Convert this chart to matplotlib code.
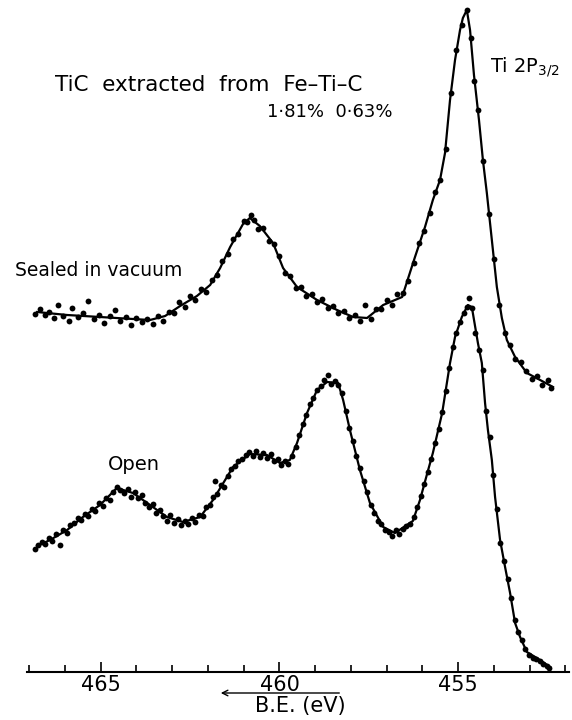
import matplotlib
matplotlib.use("Agg")
import matplotlib.pyplot as plt

plt.rcParams['font.family'] = ['DejaVu Sans']
plt.rcParams['mathtext.default'] = 'regular'

# Smoothed Ti 2p envelopes (binding energy in eV, intensity in arb. units)
sealed_be = [466.78, 465.94, 465.02, 464.10, 463.62, 463.20, 462.78, 462.31, 461.94,
             461.66, 461.38, 461.02, 460.83, 460.55, 460.18, 459.90, 459.51, 458.95,
             458.39, 457.94, 457.55, 457.10, 456.57, 456.21, 455.93, 455.71, 455.51,
             455.37, 455.23, 455.09, 454.95, 454.87, 454.76, 454.67, 454.56, 454.42,
             454.31, 454.20, 454.06, 453.92, 453.78, 453.64, 453.41, 453.08, 452.71,
             452.35]
sealed_fit = [361, 358, 356, 354, 353, 357, 367, 377, 388,
              405, 426, 449, 455, 447, 430, 405, 386, 373,
              363, 356, 355, 368, 376, 416, 446, 473, 493,
              520, 573, 613, 643, 655, 663, 643, 598, 553,
              513, 480, 433, 386, 355, 333, 316, 300, 293,
              286]

open_be = [466.78, 466.42, 465.94, 465.50, 465.02, 464.55, 464.10, 463.62, 463.15,
           462.70, 462.22, 461.86, 461.30, 460.83, 460.35, 459.99, 459.71, 459.51,
           459.23, 458.95, 458.67, 458.36, 458.22, 458.03, 457.75, 457.47, 457.10,
           456.77, 456.27, 456.07, 455.88, 455.71, 455.45, 455.23, 455.09, 454.90,
           454.73, 454.62, 454.45, 454.34, 454.25, 454.17, 454.06, 453.97, 453.83,
           453.69, 453.55, 453.41, 453.27, 453.08, 452.71, 452.43]
open_fit = [127, 133, 143, 156, 168, 185, 180, 168, 156,
            151, 156, 173, 206, 219, 218, 210, 213, 230,
            260, 283, 291, 290, 273, 243, 203, 170, 146,
            140, 152, 173, 198, 220, 260, 310, 336, 356,
            368, 366, 330, 310, 270, 243, 213, 176, 133,
            106, 80, 50, 36, 21, 13, 6]

# Measured counts
sealed_pts_be = [466.85, 466.70, 466.55, 466.45, 466.30, 466.20, 466.05, 465.90, 465.80,
                 465.65, 465.50, 465.35, 465.20, 465.05, 464.90, 464.75, 464.60, 464.45,
                 464.30, 464.15, 464.00, 463.85, 463.70, 463.55, 463.40, 463.25, 463.10,
                 462.95, 462.80, 462.65, 462.50, 462.35, 462.20, 462.05, 461.90, 461.75,
                 461.60, 461.45, 461.30, 461.15, 461.00, 460.90, 460.80, 460.70, 460.60,
                 460.45, 460.30, 460.15, 460.00, 459.85, 459.70, 459.55, 459.40, 459.25,
                 459.10, 458.95, 458.80, 458.65, 458.50, 458.35, 458.20, 458.05, 457.90,
                 457.75, 457.60, 457.45, 457.30, 457.15, 457.00, 456.85, 456.70, 456.55,
                 456.40, 456.25, 456.10, 455.95, 455.80, 455.65, 455.50, 455.35, 455.20,
                 455.05, 454.90, 454.76, 454.65, 454.55, 454.45, 454.30, 454.15, 454.00,
                 453.85, 453.70, 453.55, 453.40, 453.25, 453.10, 452.95, 452.80, 452.65,
                 452.50, 452.40]
sealed_pts = [359, 364, 358, 361, 355, 368, 357, 352, 365,
              356, 360, 372, 354, 358, 350, 357, 363, 352,
              356, 348, 355, 351, 354, 349, 357, 352, 361,
              360, 371, 366, 377, 373, 384, 381, 393, 398,
              412, 419, 434, 439, 452, 451, 458, 453, 444,
              445, 432, 429, 417, 400, 397, 385, 386, 377,
              379, 371, 374, 365, 367, 360, 362, 355, 358,
              352, 368, 354, 364, 364, 373, 368, 379, 380,
              392, 410, 430, 442, 460, 481, 493, 524, 580,
              623, 648, 663, 635, 592, 563, 512, 459, 414,
              368, 340, 328, 314, 311, 302, 294, 297, 288,
              293, 285]

open_pts_be = [466.85, 466.75, 466.65, 466.55, 466.45, 466.35, 466.25, 466.15, 466.05,
               465.95, 465.85, 465.75, 465.65, 465.55, 465.45, 465.35, 465.25, 465.15,
               465.05, 464.95, 464.85, 464.75, 464.65, 464.55, 464.45, 464.35, 464.25,
               464.15, 464.05, 463.95, 463.85, 463.75, 463.65, 463.55, 463.45, 463.35,
               463.25, 463.15, 463.05, 462.95, 462.85, 462.75, 462.65, 462.55, 462.45,
               462.35, 462.25, 462.15, 462.05, 461.95, 461.85, 461.80, 461.75, 461.65,
               461.55, 461.45, 461.35, 461.25, 461.15, 461.05, 460.95, 460.85, 460.75,
               460.65, 460.55, 460.45, 460.35, 460.25, 460.15, 460.05, 459.95, 459.85,
               459.75, 459.65, 459.55, 459.45, 459.35, 459.25, 459.15, 459.05, 458.95,
               458.85, 458.75, 458.65, 458.55, 458.45, 458.35, 458.25, 458.15, 458.05,
               457.95, 457.85, 457.75, 457.65, 457.55, 457.45, 457.35, 457.25, 457.15,
               457.05, 456.95, 456.85, 456.75, 456.65, 456.55, 456.45, 456.35, 456.25,
               456.15, 456.05, 455.95, 455.85, 455.75, 455.65, 455.55, 455.45, 455.35,
               455.25, 455.15, 455.05, 454.95, 454.85, 454.75, 454.70, 454.62, 454.52,
               454.42, 454.32, 454.22, 454.12, 454.02, 453.92, 453.82, 453.72, 453.62,
               453.52, 453.42, 453.32, 453.22, 453.12, 453.02, 452.92, 452.82, 452.72,
               452.62, 452.52, 452.45]
open_pts = [124, 128, 131, 129, 135, 132, 139, 128, 143,
            140, 148, 150, 155, 153, 159, 157, 164, 162,
            170, 167, 175, 173, 181, 186, 183, 180, 184,
            176, 181, 175, 178, 170, 166, 169, 160, 163,
            157, 152, 158, 150, 154, 148, 152, 149, 155,
            151, 158, 157, 166, 168, 176, 192, 179, 188,
            186, 197, 204, 207, 212, 214, 218, 221, 217,
            222, 216, 220, 215, 219, 212, 214, 208, 212,
            209, 217, 226, 238, 249, 258, 269, 275, 283,
            287, 293, 298, 289, 292, 288, 280, 262, 245,
            232, 217, 205, 192, 181, 168, 160, 152, 149,
            143, 141, 137, 143, 139, 144, 147, 149, 156,
            166, 177, 189, 201, 214, 230, 244, 261, 282,
            305, 326, 340, 351, 360, 366, 375, 365, 340,
            323, 303, 262, 236, 198, 164, 130, 112, 94,
            75, 53, 41, 33, 24, 18, 15, 14, 12,
            9, 7, 5]

major_ticks = [465, 460, 455]
minor_ticks = list(range(452, 468))

fig = plt.figure(figsize=(5.72, 7.2), dpi=100)
ax = fig.add_axes([0, 48 / 720, 1, 672 / 720])

ax.plot(sealed_be, sealed_fit, color='black', lw=1.6)
ax.plot(open_be, open_fit, color='black', lw=1.6)
ax.plot(sealed_pts_be, sealed_pts, 'o', color='black', ms=4.2, mec='none')
ax.plot(open_pts_be, open_pts, 'o', color='black', ms=4.2, mec='none')

ax.set_xlim(467.818, 451.818)
ax.set_ylim(1, 673)

for side in ['left', 'right', 'top']:
    ax.spines[side].set_visible(False)
ax.spines['bottom'].set_bounds(467.05, 451.9)
ax.spines['bottom'].set_linewidth(1.5)
ax.set_yticks([])
ax.set_xticks(major_ticks)
ax.set_xticks(minor_ticks, minor=True)
ax.tick_params(axis='x', which='major', direction='in', length=7, width=1.2,
               labelsize=15, pad=2)
ax.tick_params(axis='x', which='minor', direction='in', length=5, width=1.2)

# B.E. direction arrow and axis title
ax.annotate('', xy=(461.72, -20), xytext=(458.25, -20),
            arrowprops=dict(arrowstyle='->', color='black', lw=1.0),
            annotation_clip=False)
ax.text(459.43, -33, 'B.E. (eV)', fontsize=15, ha='center', va='center')

ax.text(466.28, 588, 'TiC  extracted  from  Fe–Ti–C', fontsize=15.5,
        ha='left', va='center')
ax.text(460.35, 561, '1·81%  0·63%', fontsize=13, ha='left', va='center')
ax.text(454.12, 606, 'Ti 2P$_{3/2}$', fontsize=14, ha='left', va='center')
ax.text(467.40, 403, 'Sealed in vacuum', fontsize=13.5, ha='left', va='center')
ax.text(464.80, 209, 'Open', fontsize=14, ha='left', va='center')

fig.savefig('out.png', dpi=100)
